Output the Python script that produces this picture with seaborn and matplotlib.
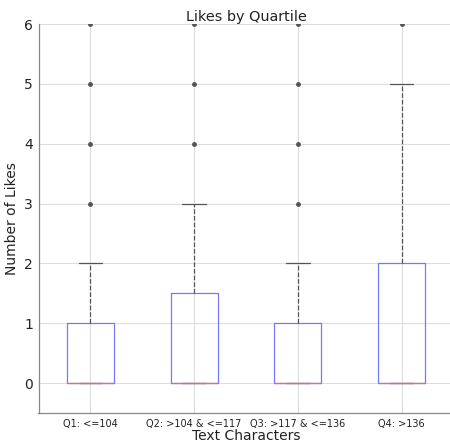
import numpy as np
import pandas as pd
import matplotlib
matplotlib.use("Agg")
import matplotlib.pyplot as plt
import seaborn as sns

# Likes values and how many posts in each quartile had that many likes
like_values = [0, 1, 2, 3, 4, 5, 6]
q1_counts = [60, 20, 16, 1, 1, 1, 1]
q2_counts = [55, 19, 20, 2, 1, 1, 1]
q3_counts = [62, 18, 16, 1, 1, 1, 1]
q4_counts = [52, 14, 14, 8, 6, 5, 1]
categories = ["Q1: <=104", "Q2: >104 & <=117", "Q3: >117 & <=136", "Q4: >136"]

rows = []
for cat, counts in zip(categories, [q1_counts, q2_counts, q3_counts, q4_counts]):
    vals = np.repeat(like_values, counts)
    rows.append(pd.DataFrame({"quartile": cat, "likes": vals}))
df = pd.concat(rows, ignore_index=True)

sns.set_style("white")
plt.rcParams['font.family'] = ['DejaVu Sans']

fig = plt.figure(figsize=(4.5, 4.42), dpi=100)
ax = fig.add_axes([38.5/450, 29/442, 415/450, 389/442])

sns.boxplot(data=df, x="quartile", y="likes", order=categories, ax=ax,
            width=0.455, fill=False, linewidth=0.9,
            boxprops=dict(color="#7878f4"),
            medianprops=dict(color="#f06868"),
            whiskerprops=dict(color="#555555", linestyle="--"),
            capprops=dict(color="#555555"),
            flierprops=dict(marker="o", markerfacecolor="#555555",
                            markeredgecolor="#555555", markersize=2.5))
for ln in ax.lines:
    ln.set_clip_on(True)
    ln.set_clip_path(ax.patch)

ax.set_ylim(-0.5, 6)
ax.set_yticks([0, 1, 2, 3, 4, 5, 6])
ax.grid(True, color="#dddddd", linewidth=0.8)
ax.set_axisbelow(True)
for s in ["top", "right"]:
    ax.spines[s].set_visible(False)
for s in ["left", "bottom"]:
    ax.spines[s].set_color("#888888")
    ax.spines[s].set_linewidth(0.9)
ax.tick_params(axis="y", labelsize=10, length=2.5, pad=1.5, color="#888888", labelcolor="#222222")
ax.tick_params(axis="x", labelsize=7, length=2.5, pad=1.5, color="#888888", labelcolor="#222222")
ax.set_title("Likes by Quartile", fontsize=10.4, pad=2, color="#222222")
ax.set_ylabel("Number of Likes", fontsize=10, labelpad=3.5, color="#222222")
ax.set_xlabel("Text Characters", fontsize=10, labelpad=0, color="#222222")

fig.savefig("out.png", dpi=100)
